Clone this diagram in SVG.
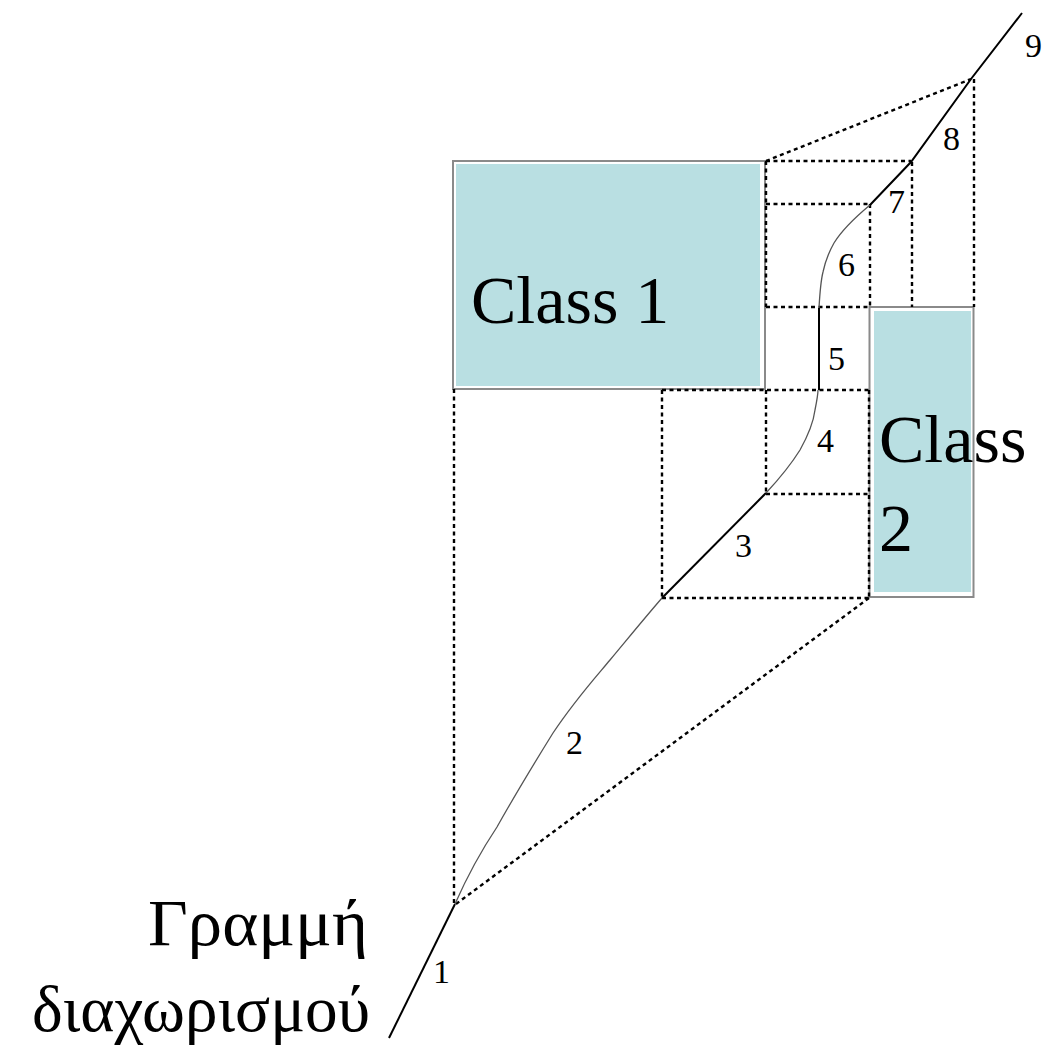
<svg xmlns="http://www.w3.org/2000/svg" width="1047" height="1054" viewBox="0 0 1047 1054">
<style>
.frame{fill:#ffffff;stroke:#8a8a8a;stroke-width:2}
.fill{fill:#b9dfe2}
.dot{fill:none;stroke:#000;stroke-width:2.4;stroke-dasharray:4 3.5}
.solid{fill:none;stroke:#000;stroke-width:2}
.thin{fill:none;stroke:#555;stroke-width:1.3}
.num{font-family:'Liberation Serif',serif;font-size:34px;fill:#000}
.big{font-family:'Liberation Serif',serif;font-size:68px;fill:#000}
.gr{font-family:'Liberation Serif','DejaVu Serif',serif;font-size:65px;fill:#000}
</style>
<rect width="1047" height="1054" fill="#fff"/>
<g id="class1">
<rect class="frame" x="453" y="161" width="312" height="228"/>
<rect class="fill" x="456" y="164" width="304" height="222"/>
<text class="big" x="471" y="323">Class 1</text>
</g>
<g id="class2">
<rect class="frame" x="869.5" y="307" width="104" height="290"/>
<rect class="fill" x="874" y="311" width="97" height="281"/>
</g>
<g id="connectors">
<line class="dot" x1="454" y1="389" x2="454" y2="904"/>
<line class="dot" x1="456" y1="904" x2="869" y2="598"/>
<line class="dot" x1="662" y1="598" x2="869" y2="598"/>
<line class="dot" x1="662" y1="390" x2="662" y2="598"/>
<line class="dot" x1="662" y1="390" x2="869" y2="390"/>
<line class="dot" x1="766" y1="390" x2="766" y2="494"/>
<line class="dot" x1="766" y1="494" x2="869" y2="494"/>
<line class="dot" x1="869" y1="390" x2="869" y2="597"/>
<line class="dot" x1="766" y1="161" x2="766" y2="307"/>
<line class="dot" x1="766" y1="307" x2="869" y2="307"/>
<line class="dot" x1="766" y1="204" x2="870" y2="204"/>
<line class="dot" x1="766" y1="161" x2="911" y2="161"/>
<line class="dot" x1="870" y1="204" x2="870" y2="307"/>
<line class="dot" x1="912" y1="162" x2="912" y2="307"/>
<line class="dot" x1="974" y1="79" x2="974" y2="307"/>
<line class="dot" x1="766" y1="161" x2="971" y2="79"/>
<polyline class="solid" points="389,1038 455,904"/>
<path class="thin" d="M455,904 C470,870 485,845 497,827 C515,795 535,762 553,733 C575,700 595,678 610,660 C630,636 648,614 662,598"/>
<polyline class="solid" points="662,598 766,493"/>
<path class="thin" d="M766,493 C780,478 790,466 800,450 C810,432 814,418 815,410 C817,400 818,395 818,390"/>
<polyline class="solid" points="819,390 819,308"/>
<path class="thin" d="M819,308 C820,290 821,280 823,272 C826,258 830,250 834,243 C842,230 852,220 870,205"/>
<polyline class="solid" points="870,205 911,162 971,79 1022,13"/>
</g>
<g id="labels">
<text class="num" x="433" y="983">1</text>
<text class="num" x="566" y="754">2</text>
<text class="num" x="735" y="557">3</text>
<text class="num" x="817" y="452">4</text>
<text class="num" x="828" y="370">5</text>
<text class="num" x="838" y="276">6</text>
<text class="num" x="888" y="213">7</text>
<text class="num" x="943" y="150">8</text>
<text class="num" x="1025" y="57">9</text>
</g>
<g id="class2-label">
<text class="big" x="879" y="462">Class</text>
<text class="big" x="879" y="551">2</text>
</g>
<g id="title">
<text class="gr" x="148" y="945" textLength="220" lengthAdjust="spacingAndGlyphs">Γραμμή</text>
<text class="gr" x="32" y="1031" textLength="338" lengthAdjust="spacingAndGlyphs">διαχωρισμού</text>
</g>
</svg>
